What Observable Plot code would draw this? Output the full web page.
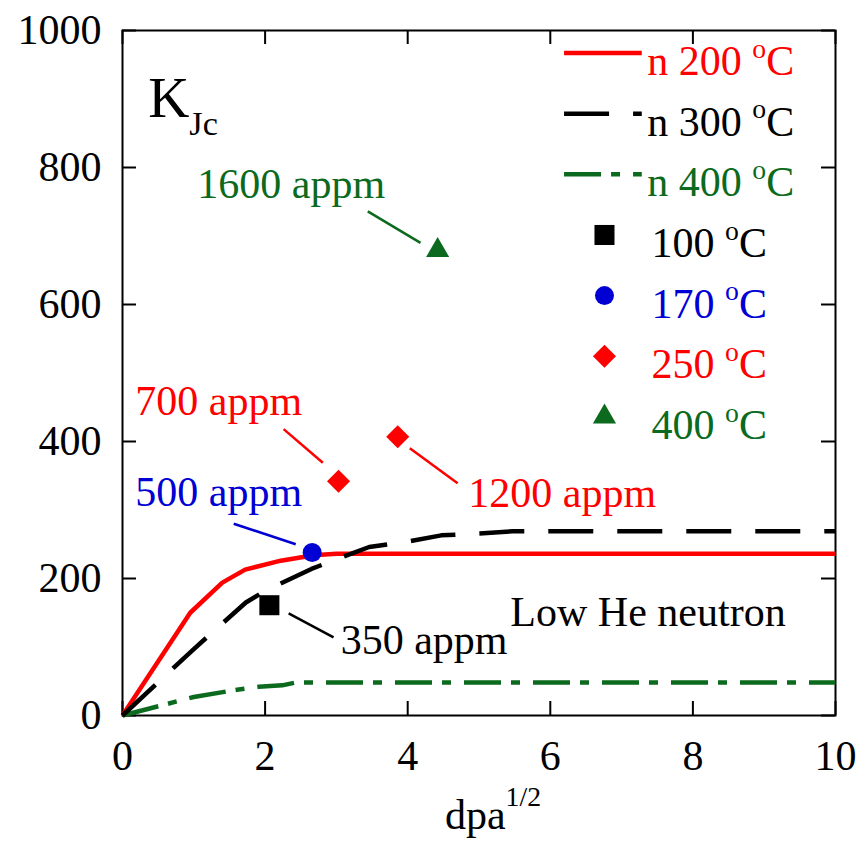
<!DOCTYPE html>
<html>
<head>
<meta charset="utf-8">
<script src="https://cdn.jsdelivr.net/npm/d3@7"></script>
<script src="https://cdn.jsdelivr.net/npm/@observablehq/plot@0.6"></script>
<style>
  html, body { margin: 0; padding: 0; background: #fff; }
  svg text, svg tspan { font-family: "Liberation Serif", serif; }
</style>
</head>
<body>
<div id="chart"></div>
<script>
// Axis ticks
const xTicks = [0, 2, 4, 6, 8, 10];
const yTicks = [0, 200, 400, 600, 800, 1000];

// Low-He neutron trend lines (x = dpa^1/2, y = K_Jc shift)
const n200X = [0, 0.95, 1.40, 1.72, 2.22, 2.68, 3.0, 10];
const n200Y = [0, 150, 194, 213, 226, 234, 236, 236];
const n300X = [0, 1.0, 1.73, 2.0, 2.65, 3.0, 3.46, 4.0, 4.47, 5.06, 5.48, 10];
const n300Y = [0, 97, 165, 182, 214, 228, 246, 254, 263, 266, 269, 269];
const n400X = [0, 1.0, 1.63, 1.91, 2.24, 2.42, 10];
const n400Y = [0, 27, 38, 42, 44, 48, 48];

// Helium-implanted measurements
const pointTemp = ["100 ^{o}C", "170 ^{o}C", "250 ^{o}C", "250 ^{o}C", "400 ^{o}C"];
const pointX = [2.06, 2.66, 3.03, 3.86, 4.42];
const pointY = [161, 238, 342, 407, 679];
const pointHe = ["350 appm", "500 appm", "700 appm", "1200 appm", "1600 appm"];

const RED = "#ff0000", BLACK = "#000000", GREEN = "#0b6a1d", BLUE = "#0000d4";
const FONT = 42;
const SERIF = "Liberation Serif";

const W = 865, H = 844;
const mL = 122, mR = 30, mT = 30, mB = 129;
const xPerPx = 10 / (W - mL - mR);
const yPerPx = 1000 / (H - mT - mB);
const tickLen = 14;

const lineSeries = [
  {name: "n 200 ^{o}C", xs: n200X, ys: n200Y, stroke: RED, dash: null},
  {name: "n 300 ^{o}C", xs: n300X, ys: n300Y, stroke: BLACK, dash: "45,24"},
  {name: "n 400 ^{o}C", xs: n400X, ys: n400Y, stroke: GREEN, dash: "37,10,9,13"}
];
const pointStyle = {
  "100 ^{o}C": {symbol: "square", fill: BLACK, r: 11.3},
  "170 ^{o}C": {symbol: "circle", fill: BLUE, r: 9.5},
  "250 ^{o}C": {symbol: "diamond2", fill: RED, r: 10.4},
  "400 ^{o}C": {symbol: "triangle", fill: GREEN, r: 8.6}
};
const points = pointX.map((x, i) => ({x, y: pointY[i], temp: pointTemp[i], he: pointHe[i]}));

// Label placement for the He-content call-outs
const callouts = {
  "350 appm":  {tx: 3.06, ty: 90,  x1: 2.33, y1: 149, x2: 2.96, y2: 114, color: BLACK},
  "500 appm":  {tx: 0.18, ty: 306, x1: 1.56, y1: 280, x2: 2.43, y2: 250, color: BLUE},
  "700 appm":  {tx: 0.18, ty: 438, x1: 2.26, y1: 418, x2: 2.81, y2: 369, color: RED},
  "1200 appm": {tx: 4.85, ty: 304, x1: 4.03, y1: 390, x2: 4.70, y2: 339, color: RED},
  "1600 appm": {tx: 1.05, ty: 756, x1: 3.44, y1: 736, x2: 4.18, y2: 690, color: GREEN}
};
const calloutRows = pointHe.map(h => ({label: h, ...callouts[h]}));

// Legend rows (in data units, top-right of the frame)
const legendTop = 967, legendStep = 88.5, legendBase = 32;
const legendLines = lineSeries.map((s, i) => ({...s, y: legendTop - i * legendStep}));
const legendPts = Object.keys(pointStyle).map((k, i) => ({
  label: k, ...pointStyle[k], y: legendTop - (i + 3) * legendStep
}));

const txt = {fontFamily: SERIF, fontSize: FONT};

const marks = [
  Plot.frame({stroke: BLACK, strokeWidth: 2}),
  Plot.axisX({ticks: xTicks, tickSize: 0, tickPadding: 25, ...txt, label: null, tickFormat: d => String(d)}),
  Plot.axisY({ticks: yTicks, tickSize: 0, tickPadding: 21, ...txt, label: null, tickFormat: d => String(d)}),
  // inward ticks on all four sides
  Plot.ruleX(xTicks, {x: d => d, y1: 0, y2: tickLen * yPerPx, stroke: BLACK, strokeWidth: 2}),
  Plot.ruleX(xTicks, {x: d => d, y1: 1000, y2: 1000 - tickLen * yPerPx, stroke: BLACK, strokeWidth: 2}),
  Plot.ruleY(yTicks, {y: d => d, x1: 0, x2: tickLen * xPerPx, stroke: BLACK, strokeWidth: 2}),
  Plot.ruleY(yTicks, {y: d => d, x1: 10, x2: 10 - tickLen * xPerPx, stroke: BLACK, strokeWidth: 2})
];

// trend lines: green, red, then black on top
[lineSeries[2], lineSeries[0], lineSeries[1]].forEach(s => {
  marks.push(Plot.line(s.xs.map((x, i) => ({x, y: s.ys[i]})), {
    x: "x", y: "y", stroke: s.stroke, strokeWidth: 4.5,
    strokeDasharray: s.dash ?? undefined, strokeLinecap: "butt", strokeLinejoin: "round"
  }));
});

// call-out leaders and labels
marks.push(
  Plot.link(calloutRows, {x1: "x1", y1: "y1", x2: "x2", y2: "y2", stroke: d => d.color, strokeWidth: 2.5}),
  Plot.text(calloutRows, {x: "tx", y: "ty", text: "label", fill: d => d.color, ...txt,
    textAnchor: "start", lineAnchor: "bottom"})
);

// measured points
Object.keys(pointStyle).forEach(k => {
  const st = pointStyle[k];
  marks.push(Plot.dot(points.filter(p => p.temp === k), {
    x: "x", y: "y", symbol: st.symbol, fill: st.fill, r: st.r, stroke: "none"
  }));
});

// annotations
marks.push(
  Plot.text([{x: 5.44, y: 131, t: "Low He neutron"}], {x: "x", y: "y", text: "t", fill: BLACK,
    ...txt, textAnchor: "start", lineAnchor: "bottom"}),
  Plot.text([{x: 0.36, y: 873, t: "K_{Jc}"}], {x: "x", y: "y", text: "t", fill: BLACK,
    fontFamily: SERIF, fontSize: 57, textAnchor: "start", lineAnchor: "bottom"}),
  Plot.text([0], {frameAnchor: "bottom", text: () => "dpa^{1/2}", fill: BLACK, ...txt,
    dx: 14, dy: 113, lineAnchor: "bottom"})
);

// legend
legendLines.forEach(s => {
  marks.push(Plot.ruleY([s], {y: "y", x1: 6.2, x2: 7.29, stroke: s.stroke, strokeWidth: 4.5,
    strokeDasharray: s.dash ?? undefined}));
});
marks.push(
  Plot.text(legendLines, {x: 7.36, y: d => d.y - legendBase, text: "name", fill: "stroke",
    ...txt, textAnchor: "start", lineAnchor: "bottom"}),
  Plot.text(legendPts, {x: 7.42, y: d => d.y - legendBase, text: "label", fill: "fill",
    ...txt, textAnchor: "start", lineAnchor: "bottom"})
);
legendPts.forEach(p => {
  marks.push(Plot.dot([p], {x: 6.76, y: "y", symbol: p.symbol, fill: p.fill, r: p.r, stroke: "none"}));
});

const chart = Plot.plot({
  width: W, height: H,
  marginLeft: mL, marginRight: mR, marginTop: mT, marginBottom: mB,
  x: {domain: [0, 10]},
  y: {domain: [0, 1000]},
  style: {fontSize: FONT + "px", background: "#fff", color: "#000"},
  marks
});
chart.setAttribute("font-family", SERIF);
document.getElementById("chart").appendChild(chart);

// Turn ^{..} / _{..} markup into raised / lowered tspans
function applyScripts(root) {
  const NS = "http://www.w3.org/2000/svg";
  root.querySelectorAll("text").forEach(t => {
    const s = t.textContent;
    if (!/[\^_]\{/.test(s)) return;
    const fs = parseFloat(getComputedStyle(t).fontSize);
    t.textContent = "";
    const re = /([\^_])\{([^}]*)\}|([^\^_]+)/g;
    let m, shift = 0;
    while ((m = re.exec(s))) {
      const span = document.createElementNS(NS, "tspan");
      let target;
      if (m[3] !== undefined) {
        target = 0;
        span.textContent = m[3];
      } else if (m[1] === "^") {
        // degree "o" sits a little lower than numeric exponents
        target = (m[2] === "o" ? -0.41 : -0.53) * fs;
        span.textContent = m[2];
        span.setAttribute("font-size", 0.66 * fs);
      } else {
        target = 0.31 * fs;
        span.textContent = m[2];
        span.setAttribute("font-size", 0.6 * fs);
      }
      span.setAttribute("dy", target - shift);
      shift = target;
      t.appendChild(span);
    }
  });
}
applyScripts(chart);
</script>
</body>
</html>
